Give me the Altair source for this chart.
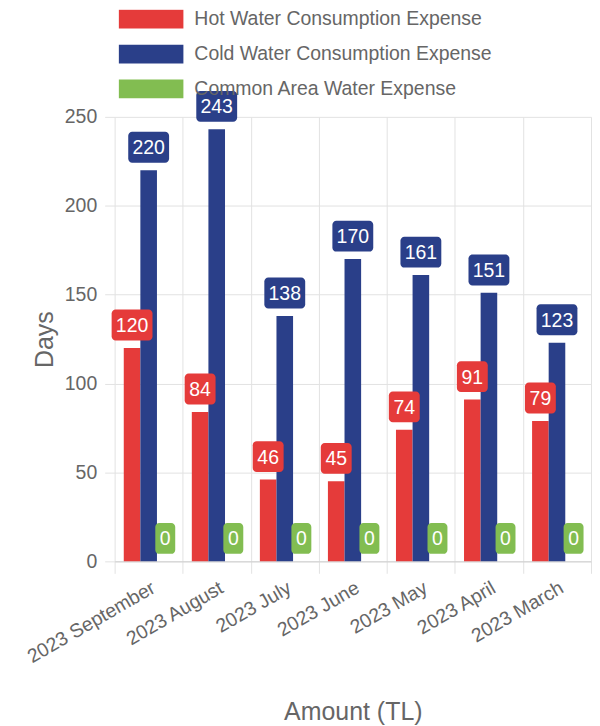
import altair as alt
import pandas as pd

months = ["2023 September", "2023 August", "2023 July", "2023 June",
          "2023 May", "2023 April", "2023 March"]
series = ["Hot Water Consumption Expense", "Cold Water Consumption Expense",
          "Common Area Water Expense"]
hot = [120, 84, 46, 45, 74, 91, 79]
cold = [220, 243, 138, 170, 161, 151, 123]
common = [0, 0, 0, 0, 0, 0, 0]
colors = ["#e53b3a", "#2a3f89", "#82bd51"]

rows = []
for vals, s in zip([hot, cold, common], series):
    for m, v in zip(months, vals):
        rows.append({"month": m, "series": s, "value": v, "digits": len(str(v))})
df = pd.DataFrame(rows)

W, H = 478, 446
YMAX = 250
k = H / YMAX  # px per unit
GAP = 7.5 / k
BOXH = 31 / k

x_enc = alt.X("month:N", sort=months,
              scale=alt.Scale(paddingInner=0, paddingOuter=0),
              axis=alt.Axis(title="Amount (TL)", labelAngle=-30, labelAlign="right",
                            labelBaseline="top", labelFontSize=19.5, labelColor="#666",
                            labelPadding=5, titleFontSize=25, titleColor="#666",
                            titleFontWeight="normal", titlePadding=34,
                            tickBand="extent", tickSize=12, tickColor="#e2e2e2",
                            grid=True, gridColor="#e2e2e2", domainColor="#cfcfcf",
                            labelFont="Liberation Sans", titleFont="Liberation Sans"))
xo_enc = alt.XOffset("series:N", sort=series,
                     scale=alt.Scale(paddingInner=0, paddingOuter=0.55))
color_enc = alt.Color("series:N", sort=series,
                      scale=alt.Scale(domain=series, range=colors),
                      legend=alt.Legend(title=None, orient="none", legendX=4, legendY=-108,
                                        direction="vertical",
                                        symbolType="M-1,-0.29H1V0.29H-1Z",
                                        symbolSize=4225, symbolStrokeWidth=0,
                                        symbolOpacity=1, clipHeight=20,
                                        labelFontSize=19.5, labelColor="#666",
                                        labelFont="Liberation Sans",
                                        labelOffset=11, rowPadding=15, padding=0,
                                        labelLimit=400))

base = alt.Chart(df)

bars = base.mark_bar().encode(
    x=x_enc, xOffset=xo_enc,
    y=alt.Y("value:Q", scale=alt.Scale(domain=[0, YMAX], nice=False),
            axis=alt.Axis(title="Days", values=[0, 50, 100, 150, 200, 250],
                          labelFontSize=19.5, labelColor="#666", labelPadding=8,
                          titleFontSize=25, titleColor="#666", titleFontWeight="normal",
                          titlePadding=7, tickSize=10, tickColor="#e2e2e2",
                          gridColor="#e2e2e2", domain=False,
                          labelFont="Liberation Sans", titleFont="Liberation Sans")),
    color=color_enc,
)

boxes = []
for d, w in [(1, 20), (2, 31), (3, 41)]:
    boxes.append(
        base.transform_filter(alt.datum.digits == d)
        .transform_calculate(lo=f"datum.value + {GAP}", hi=f"datum.value + {GAP + BOXH}")
        .mark_bar(width=w, cornerRadius=4, clip=False)
        .encode(x=alt.X("month:N", sort=months), xOffset=alt.XOffset("series:N", sort=series),
                y="lo:Q", y2="hi:Q",
                color=alt.Color("series:N", sort=series, legend=None))
    )

texts = (
    base.transform_calculate(mid=f"datum.value + {GAP + BOXH / 2}")
    .mark_text(color="white", fontSize=19.5, baseline="middle", font="Liberation Sans",
               dy=1)
    .encode(x=alt.X("month:N", sort=months), xOffset=alt.XOffset("series:N", sort=series),
            y="mid:Q", text="value:Q")
)

chart = alt.layer(bars, *boxes, texts).properties(
    width=W, height=H,
    padding={"left": 15, "top": 0, "right": 0, "bottom": 0},
).configure_view(stroke=None)

chart.save("out.html", embed_options={"renderer": "svg", "actions": False})
